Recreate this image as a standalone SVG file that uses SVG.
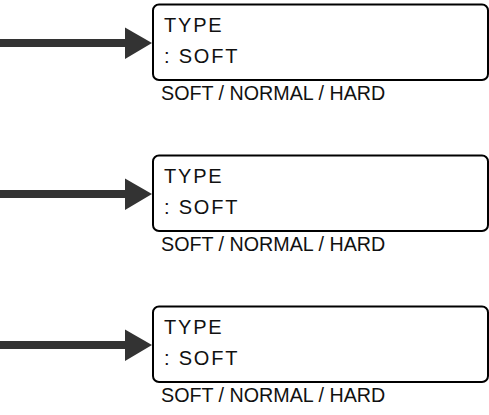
<svg xmlns="http://www.w3.org/2000/svg" width="489" height="415" viewBox="0 0 489 415">
<style>
.box{fill:#fff;stroke:#000;stroke-width:2}
.lcd{font-family:"Liberation Sans",Arial,sans-serif;font-size:20px;letter-spacing:1.8px;fill:#111}
.sub{font-family:"Liberation Sans",Arial,sans-serif;font-size:19.7px;fill:#111}
.shaft{stroke:#333;stroke-width:8;fill:none}
.head{fill:#333}
</style>
<rect width="489" height="415" fill="#fff"/>
<g id="connectors">
<line class="shaft" x1="0" y1="43" x2="127" y2="43"/>
<polygon class="head" points="125,27.5 152,43 125,59"/>
<line class="shaft" x1="0" y1="194" x2="127" y2="194"/>
<polygon class="head" points="125,178.5 152,194 125,210"/>
<line class="shaft" x1="0" y1="345" x2="127" y2="345"/>
<polygon class="head" points="125,329.5 152,345 125,361"/>
</g>
<g id="node1">
<rect class="box" x="153" y="4.5" width="335" height="75.5" rx="6"/>
<text class="lcd" x="164" y="32">TYPE</text>
<text class="lcd" x="164" y="63">: SOFT</text>
<text class="sub" x="161" y="100">SOFT / NORMAL / HARD</text>
</g>
<g id="node2">
<rect class="box" x="153" y="155.5" width="335" height="75.5" rx="6"/>
<text class="lcd" x="164" y="183">TYPE</text>
<text class="lcd" x="164" y="214">: SOFT</text>
<text class="sub" x="161" y="251">SOFT / NORMAL / HARD</text>
</g>
<g id="node3">
<rect class="box" x="153" y="306.5" width="335" height="75.5" rx="6"/>
<text class="lcd" x="164" y="334">TYPE</text>
<text class="lcd" x="164" y="365">: SOFT</text>
<text class="sub" x="161" y="402">SOFT / NORMAL / HARD</text>
</g>
</svg>
